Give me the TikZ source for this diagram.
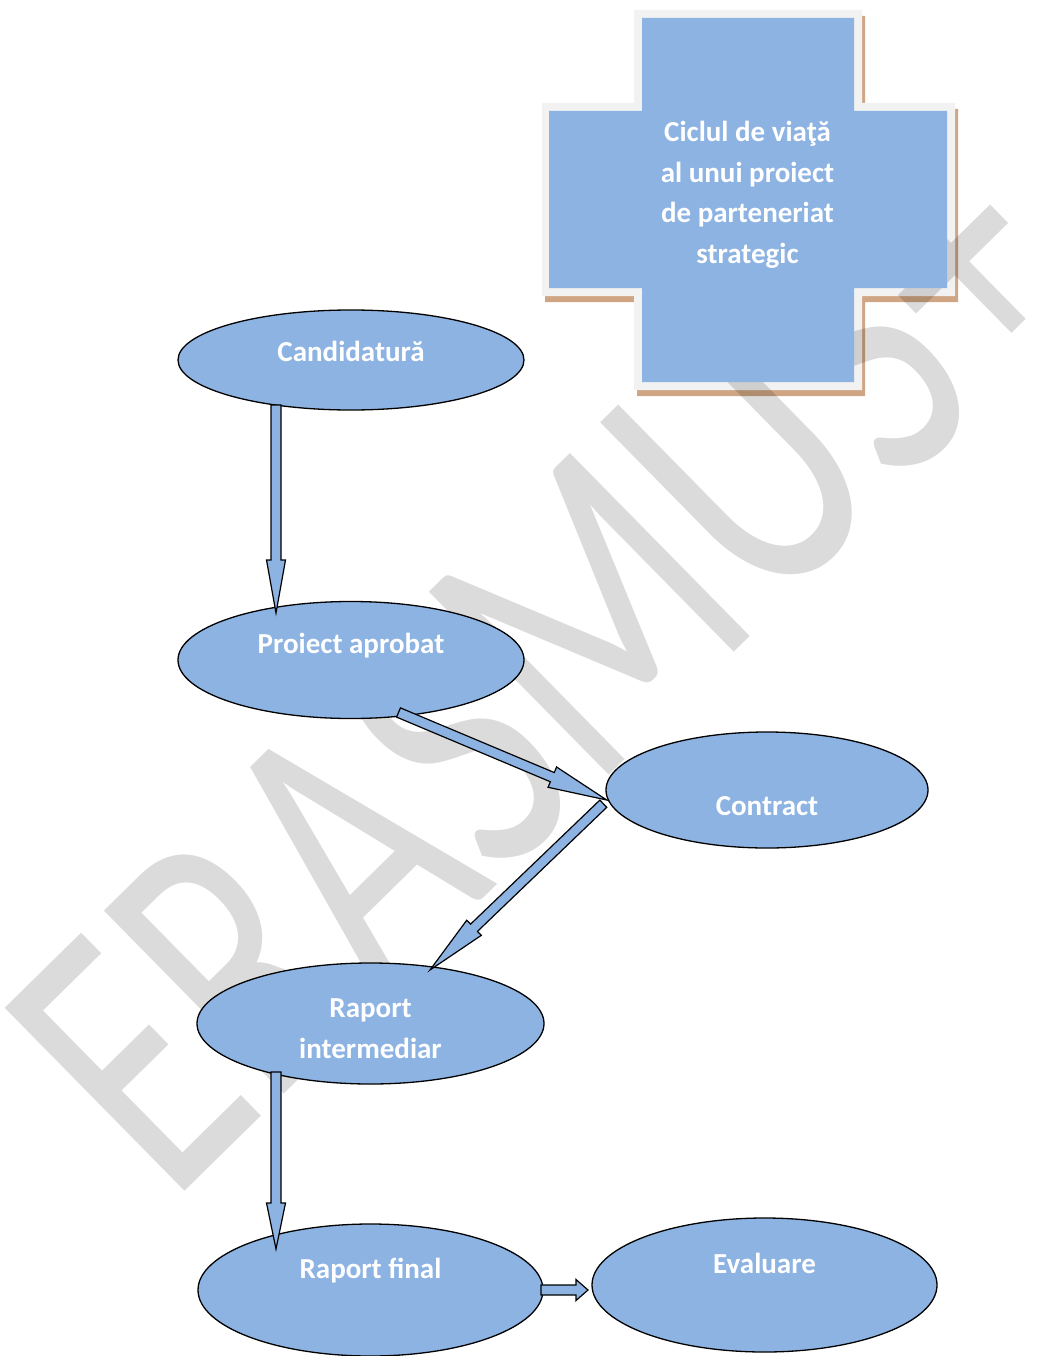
\documentclass[tikz,border=0pt]{standalone}
\usepackage{fontspec}
\setmainfont{Carlito}
\usetikzlibrary{shapes.geometric,calc}
\definecolor{boxblue}{RGB}{141,179,226}
\definecolor{crossedge}{RGB}{242,242,242}
\definecolor{crossshadow}{RGB}{207,165,131}
\tikzset{
  ell/.style={ellipse, draw=black, line width=1.3pt, fill=boxblue, inner sep=0pt},
  lbl/.style={text=white, font=\bfseries\fontsize{29}{40.5}\selectfont, inner sep=0pt, align=center},
  barrow/.style={draw=black, line width=1.2pt, fill=boxblue, line join=miter},
  wm/.style={text=black, text opacity=0.14, font=\fontsize{400}{400}\selectfont, inner sep=0pt}
}
% tail, tip, half shaft width, half head width, head length
\newcommand{\blockarrow}[5]{%
  \coordinate (bah) at ($(#2)!#5!(#1)$);
  \draw[barrow] ($(#1)!#3!90:(#2)$) -- ($(bah)!#3!-90:(#1)$) -- ($(bah)!#4!-90:(#1)$)
    -- (#2) -- ($(bah)!#4!90:(#1)$) -- ($(bah)!#3!90:(#1)$) -- ($(#1)!#3!-90:(#2)$) -- cycle;
}
\newcommand{\crossshape}[8]{%
  (#2,#5) -- (#3,#5) -- (#3,#6) -- (#4,#6) -- (#4,#7) -- (#3,#7) -- (#3,#8) -- (#2,#8)
  -- (#2,#7) -- (#1,#7) -- (#1,#6) -- (#2,#6) -- cycle}
\begin{document}
\begin{tikzpicture}[x=1pt,y=-1pt]
\useasboundingbox (0,0) rectangle (1047,1356);
\clip (0,0) rectangle (1047,1356);
% title cross: shadow and light edge
\fill[crossshadow, shift={(3,6)}] \crossshape{542}{634}{862}{955}{10}{103}{296}{390};
\fill[crossedge] \crossshape{542}{634}{862}{955}{10}{103}{296}{390};
% watermark
\node[wm, rotate=44.5, xscale=0.715, anchor=base west] (wmark) at (170,1206) {ERASMUS+};
\fill[boxblue] \crossshape{549}{642}{854}{947}{18}{111}{288}{382};
\node[lbl, anchor=base] (title) at (747.5,263) {Ciclul de viaţă\\al unui proiect\\de parteneriat\\strategic};
% ellipses
\node[ell, minimum width=346pt, minimum height=100pt] (cand) at (351,360) {};
\node[ell, minimum width=346pt, minimum height=117pt] (pa) at (351,660) {};
\node[ell, minimum width=322pt, minimum height=116pt] (con) at (767,790) {};
\node[ell, minimum width=347pt, minimum height=121pt] (ri) at (370.5,1023.5) {};
\node[ell, minimum width=345pt, minimum height=132pt] (rf) at (370.5,1290) {};
\node[ell, minimum width=345pt, minimum height=134pt] (ev) at (764.5,1285) {};
\node[lbl, anchor=base] (candtxt) at (351,361) {Candidatură};
\node[lbl, anchor=base] (patxt) at (351,653.5) {Proiect aprobat};
\node[lbl, anchor=base] (contxt) at (767,815) {Contract};
\node[lbl, anchor=base] (ritxt) at (370.5,1058) {Raport\\intermediar};
\node[lbl, anchor=base] (rftxt) at (370.5,1278) {Raport final};
\node[lbl, anchor=base] (evtxt) at (764.5,1273) {Evaluare};
% connectors
\coordinate (a1s) at ($(cand.center)+(-75,45)$);
\coordinate (a1e) at ($(pa.center)+(-75,-47)$);
\coordinate (a2s) at ($(pa.center)+(47.5,52.5)$);
\coordinate (a2e) at ($(con.center)+(-160.3,10)$);
\coordinate (a3s) at ($(con.center)+(-163.7,13.7)$);
\coordinate (a3e) at ($(ri.center)+(59.5,-53.5)$);
\coordinate (a4s) at ($(ri.center)+(-94.5,48.5)$);
\coordinate (a4e) at ($(rf.center)+(-94.5,-41)$);
\coordinate (a5s) at ($(rf.center)+(170.5,0)$);
\coordinate (a5e) at ($(ev.center)+(-176.5,5)$);
\blockarrow{a1s}{a1e}{5pt}{9.5pt}{53pt}
\blockarrow{a2s}{a2e}{5pt}{11pt}{59pt}
\blockarrow{a3s}{a3e}{5pt}{10.5pt}{61pt}
\blockarrow{a4s}{a4e}{5pt}{9.5pt}{46pt}
\blockarrow{a5s}{a5e}{5pt}{10.5pt}{12pt}
\end{tikzpicture}
\end{document}
